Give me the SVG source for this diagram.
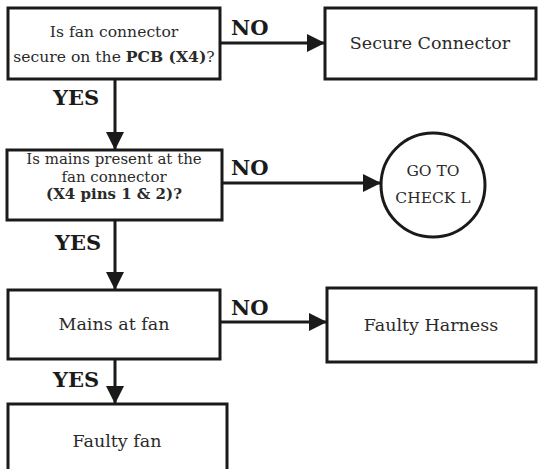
<svg xmlns="http://www.w3.org/2000/svg" width="538" height="469" viewBox="0 0 538 469">
<defs>
<marker id="ah" markerWidth="18" markerHeight="18" refX="18" refY="9" orient="auto" markerUnits="userSpaceOnUse">
<path d="M0,0 L18,9 L0,18 z" fill="#1a1a1a"/>
</marker>
<style>
.box{fill:#fff;stroke:#1a1a1a;stroke-width:3}
.t{font-family:"DejaVu Serif","Liberation Serif",serif;font-size:17.5px;fill:#2a2a2a;text-anchor:middle}
.s1{font-size:15.6px}
.s2{font-size:15px}
.sc{font-size:15.5px}
.tb{font-weight:bold}
.lbl{font-family:"DejaVu Serif","Liberation Serif",serif;font-size:21px;font-weight:bold;fill:#1a1a1a}
.c{stroke:#1a1a1a;stroke-width:3;fill:none;marker-end:url(#ah)}
</style>
</defs>
<rect width="538" height="469" fill="#fff"/>
<g id="connectors">
<line class="c" x1="220" y1="43" x2="325" y2="43"/>
<line class="c" x1="115" y1="79" x2="115" y2="150"/>
<line class="c" x1="222" y1="183" x2="381" y2="183"/>
<line class="c" x1="115" y1="220" x2="115" y2="290"/>
<line class="c" x1="220" y1="322" x2="327" y2="322"/>
<line class="c" x1="115" y1="359" x2="115" y2="404"/>
<text class="lbl" x="231" y="35">NO</text>
<text class="lbl" x="231" y="175">NO</text>
<text class="lbl" x="231" y="315">NO</text>
<text class="lbl" x="53" y="105">YES</text>
<text class="lbl" x="55" y="250">YES</text>
<text class="lbl" x="53" y="387">YES</text>
</g>
<g id="q1">
<rect class="box" x="8" y="8" width="212" height="71"/>
<text class="t s1" x="114" y="37">Is fan connector</text>
<text class="t s1" x="114" y="62">secure on the <tspan class="tb">PCB (X4)</tspan>?</text>
</g>
<g id="secure">
<rect class="box" x="325" y="8" width="211" height="71"/>
<text class="t" x="430" y="49">Secure Connector</text>
</g>
<g id="q2">
<rect class="box" x="7" y="150" width="215" height="70"/>
<text class="t s2" x="114" y="164">Is mains present at the</text>
<text class="t s2" x="114" y="181.6">fan connector</text>
<text class="t s2 tb" x="114" y="199.2">(X4 pins 1 &amp; 2)?</text>
</g>
<g id="checkL">
<circle cx="433" cy="185" r="52" fill="#fff" stroke="#1a1a1a" stroke-width="3"/>
<text class="t sc" x="433" y="176">GO TO</text>
<text class="t sc" x="433" y="203">CHECK L</text>
</g>
<g id="q3">
<rect class="box" x="8" y="290" width="212" height="69"/>
<text class="t" x="114" y="330">Mains at fan</text>
</g>
<g id="harness">
<rect class="box" x="327" y="288" width="209" height="74"/>
<text class="t" x="431" y="331">Faulty Harness</text>
</g>
<g id="fan">
<rect class="box" x="8" y="404" width="219" height="75"/>
<text class="t" x="117" y="447">Faulty fan</text>
</g>
</svg>
